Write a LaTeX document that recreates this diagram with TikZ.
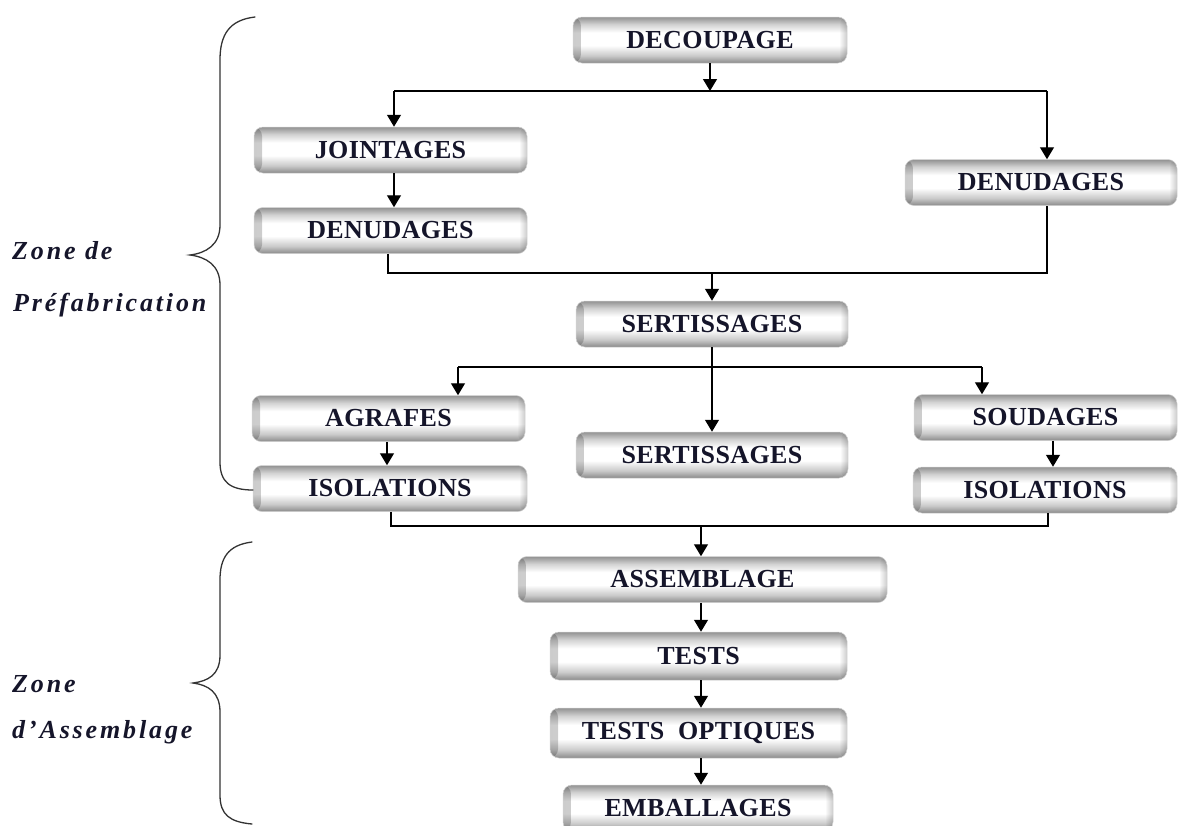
\documentclass[tikz,border=0pt]{standalone}
\usepackage{fontspec}
\setmainfont{Liberation Serif}
\newfontfamily\zonefont[LetterSpace=11]{Liberation Serif}
\newfontfamily\stepfont[LetterSpace=1.5]{Liberation Serif}
\usetikzlibrary{arrows.meta,fadings}

\definecolor{rimB}{HTML}{8A8A8A}
\definecolor{midB}{HTML}{CACACA}
\definecolor{midT}{HTML}{D2D2D2}
\definecolor{rimT}{HTML}{929292}
\definecolor{ink}{HTML}{15152A}

% Vertical button shading: grey rims, white band in the middle
\pgfdeclareverticalshading{button}{100bp}{%
  color(0bp)=(rimB); color(25bp)=(rimB); color(33bp)=(midB);
  color(44bp)=(white); color(58bp)=(white); color(67bp)=(midT);
  color(75bp)=(rimT); color(100bp)=(rimT)}

\tikzset{
  stepbox/.style={rounded corners=9pt, shading=button, draw=gray!35,
    line width=0.5pt, minimum height=46pt, inner sep=0pt,
    font=\stepfont\fontsize{26}{28}\selectfont\bfseries, text=ink,
    path picture={
      \fill[black, opacity=.2, path fading=east]
        (path picture bounding box.south west) rectangle
        ([xshift=8pt]path picture bounding box.north west);
      \fill[black, opacity=.2, path fading=west]
        ([xshift=-8pt]path picture bounding box.south east) rectangle
        (path picture bounding box.north east);
    }},
  link/.style={line width=1.4pt, black},
  arr/.style={link, -{Triangle[width=14pt,length=12pt]}},
  brace/.style={line width=1.3pt, black!80, line cap=round},
  zone/.style={anchor=base west, inner sep=0pt,
    font=\zonefont\fontsize{26}{30}\selectfont\bfseries\itshape, text=ink}
}

\begin{document}
\begin{tikzpicture}[x=1pt,y=-1pt]
\useasboundingbox (0,0) rectangle (1181,825);

% process steps
\node[stepbox, minimum width=274pt] (dec)   at (710,40)    {DECOUPAGE};
\node[stepbox, minimum width=273pt] (joi)   at (390.5,150) {JOINTAGES};
\node[stepbox, minimum width=273pt] (denL)  at (390.5,230.5) {DENUDAGES};
\node[stepbox, minimum width=272pt] (denR)  at (1041,182.5) {DENUDAGES};
\node[stepbox, minimum width=272pt] (sert)  at (712,324)   {SERTISSAGES};
\node[stepbox, minimum width=272pt] (sert2) at (712,455)   {SERTISSAGES};
\node[stepbox, minimum width=273pt] (agr)   at (388.5,418.5) {AGRAFES};
\node[stepbox, minimum width=274pt] (isoL)  at (390,488.5) {ISOLATIONS};
\node[stepbox, minimum width=263pt] (soud)  at (1045.5,417.5) {SOUDAGES};
\node[stepbox, minimum width=264pt] (isoR)  at (1045,490)  {ISOLATIONS};
\node[stepbox, minimum width=369pt] (asm)   at (702.5,579.5) {ASSEMBLAGE};
\node[stepbox, minimum width=297pt, minimum height=48pt] (tests) at (698.5,656) {TESTS};
\node[stepbox, minimum width=297pt, minimum height=50pt] (topt)  at (698.5,733) {TESTS\ \ OPTIQUES};
\node[stepbox, minimum width=270pt] (emb)   at (698,808)   {EMBALLAGES};

% junction points
\coordinate (j1) at (710,91);
\coordinate (j1L) at (394,91);
\coordinate (j1R) at (1047,91);
\coordinate (j2) at (712,273);
\coordinate (j3L) at (458,367);
\coordinate (j3R) at (982,367);
\coordinate (j4) at (701,526);

% first split
\draw[arr] (dec.south -| j1) -- (j1);
\draw[link] (j1L) -- (j1R);
\draw[arr] (j1L) -- (joi.north -| j1L);
\draw[arr] (j1R) -- (denR.north -| j1R);
\draw[arr] ([xshift=3.5pt]joi.south) -- ([xshift=3.5pt]denL.north);

% first merge
\draw[link] ([xshift=-2.5pt]denL.south) |- (j2) -| ([xshift=6pt]denR.south);
\draw[arr] (j2) -- (sert.north);

% second split
\draw[arr] (sert.south) -- (sert2.north);
\draw[link] (j3L) -- (j3R);
\draw[arr] (j3L) -- (agr.north -| j3L);
\draw[arr] (j3R) -- (soud.north -| j3R);
\draw[arr] ([xshift=-1.5pt]agr.south) -- ([xshift=-1.5pt]agr.south |- isoL.north);
\draw[arr] ([xshift=7.5pt]soud.south) -- ([xshift=7.5pt]soud.south |- isoR.north);

% second merge
\draw[link] ([xshift=1pt]isoL.south) |- (j4) -| ([xshift=3pt]isoR.south);
\draw[arr] (j4) -- (asm.north -| j4);

% assembly line
\draw[arr] (asm.south -| j4) -- (tests.north -| j4);
\draw[arr] (tests.south -| j4) -- (topt.north -| j4);
\draw[arr] (topt.south -| j4) -- (emb.north -| j4);

% zone braces
\draw[brace] (255,17) .. controls (229,20) and (220,35) .. (220,60)
  -- (220,225) .. controls (220,245) and (206,253) .. (190,255)
  .. controls (206,257) and (220,265) .. (220,285)
  -- (220,462) .. controls (220,482) and (230,490) .. (253,490);
\draw[brace] (252,542) .. controls (228,545) and (220,558) .. (220,580)
  -- (220,655) .. controls (220,675) and (208,681) .. (193,683)
  .. controls (208,685) and (220,692) .. (220,712)
  -- (220,795) .. controls (220,815) and (230,822) .. (252,824);

% zone labels
\node[zone] (zp1) at (12,259) {Zone de};
\node[zone] (zp2) at (13,311) {Préfabrication};
\node[zone] (za1) at (12,692) {Zone};
\node[zone] (za2) at (12,738) {d’Assemblage};
\end{tikzpicture}
\end{document}
